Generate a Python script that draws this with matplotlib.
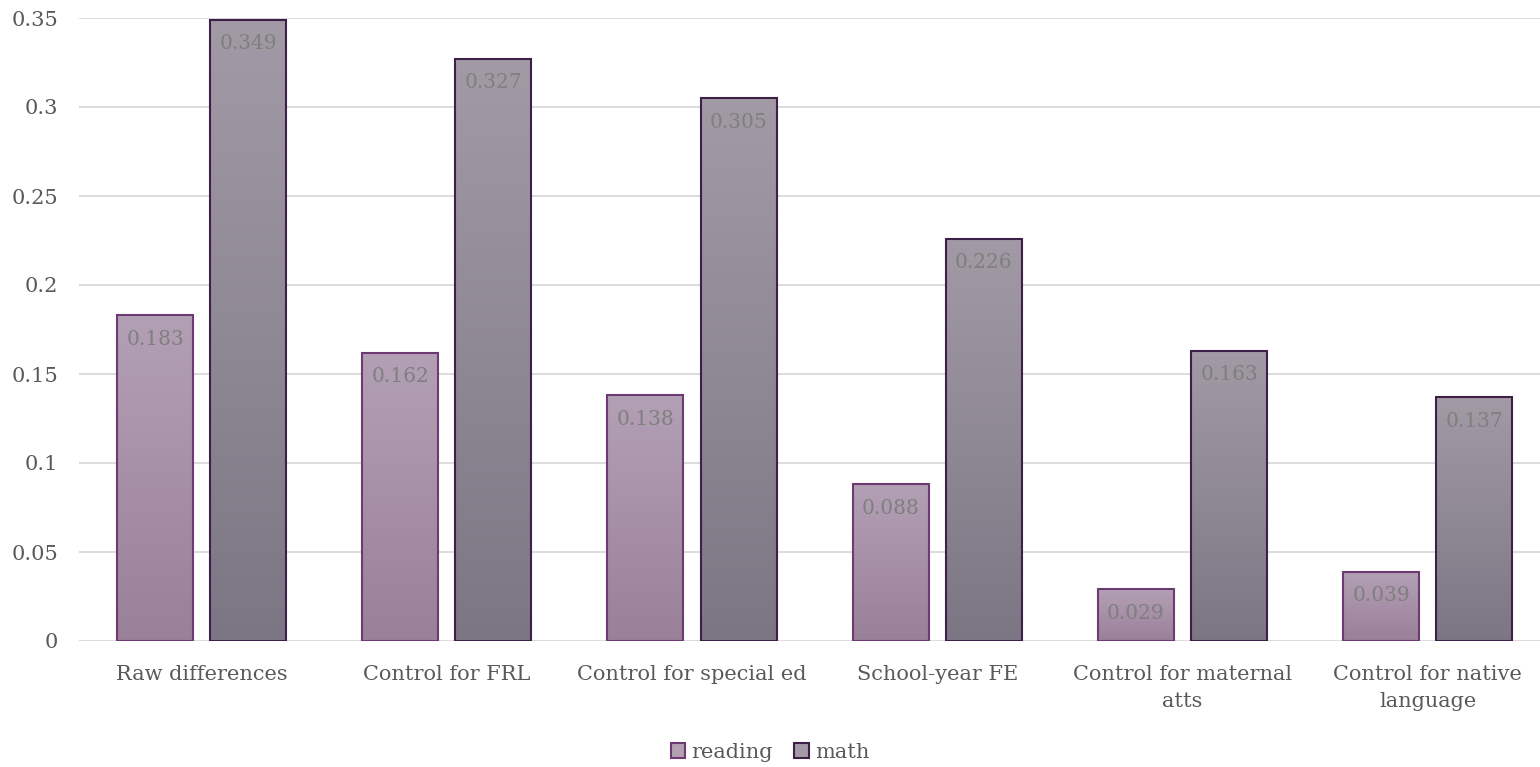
import matplotlib.pyplot as plt
import numpy as np
from matplotlib.colors import LinearSegmentedColormap
from matplotlib.patches import Patch

categories = ['Raw differences', 'Control for FRL', 'Control for special ed',
              'School-year FE', 'Control for maternal\natts', 'Control for native\nlanguage']
reading = [0.183, 0.162, 0.138, 0.088, 0.029, 0.039]
math = [0.349, 0.327, 0.305, 0.226, 0.163, 0.137]
yticks = [0, 0.05, 0.1, 0.15, 0.2, 0.25, 0.3, 0.35]
ytick_labels = ['0', '0.05', '0.1', '0.15', '0.2', '0.25', '0.3', '0.35']

plt.rcParams['font.family'] = ['DejaVu Serif']
text_gray = '#595959'
label_gray = '#7f7f7f'

series = [
    ('reading', reading, -0.19, ('#9a8099', '#b3a0b5'), '#6e3a74'),
    ('math', math, 0.19, ('#7c7684', '#a29ba6'), '#3d1f48'),
]

fig = plt.figure(figsize=(15.4, 7.67), dpi=100)
ax = fig.add_axes([79 / 1540, 1 - 641 / 767, (1540 - 79) / 1540, (641 - 18) / 767])

x = np.arange(len(categories))
width = 0.31
grad = np.linspace(0, 1, 256).reshape(-1, 1)

for name, vals, off, (c_bot, c_top), edge in series:
    cmap = LinearSegmentedColormap.from_list(name, [c_bot, c_top])
    bars = ax.bar(x + off, vals, width, facecolor='none', edgecolor=edge,
                  linewidth=1.5, zorder=3)
    for bar, v in zip(bars, vals):
        x0 = bar.get_x()
        # vertical gradient fill clipped to the bar rectangle
        im = ax.imshow(grad, cmap=cmap, origin='lower', aspect='auto',
                       extent=[x0, x0 + width, 0, v], zorder=2)
        im.set_clip_path(bar)
        ax.text(x0 + width / 2, v - 0.0135, f'{v:.3f}', ha='center', va='center',
                fontsize=14.5, color=label_gray, zorder=4)

ax.set_xlim(-0.5, 5.458)
ax.set_ylim(0, 0.35)
ax.set_yticks(yticks)
ax.set_yticklabels(ytick_labels)
ax.set_xticks(x)
ax.set_xticklabels(categories)
ax.grid(True, axis='y', color='#d9d9d9', linewidth=1.3, zorder=0)
ax.set_axisbelow(True)
for s in ax.spines.values():
    s.set_visible(False)
ax.tick_params(axis='both', length=0, labelsize=15, colors=text_gray)
ax.tick_params(axis='x', pad=17)
ax.tick_params(axis='y', pad=15)
for lbl in ax.get_xticklabels():
    lbl.set_linespacing(1.55)

handles = [Patch(facecolor=s[3][1], edgecolor=s[4], linewidth=1.5, label=s[0]) for s in series]
fig.legend(handles=handles, loc='center', bbox_to_anchor=(0.5, 1 - 752 / 767), ncol=2,
           frameon=False, fontsize=15, labelcolor=text_gray, handlelength=0.7,
           handleheight=0.7, handletextpad=0.3, columnspacing=1.0)

fig.savefig('out.png', dpi=100)
